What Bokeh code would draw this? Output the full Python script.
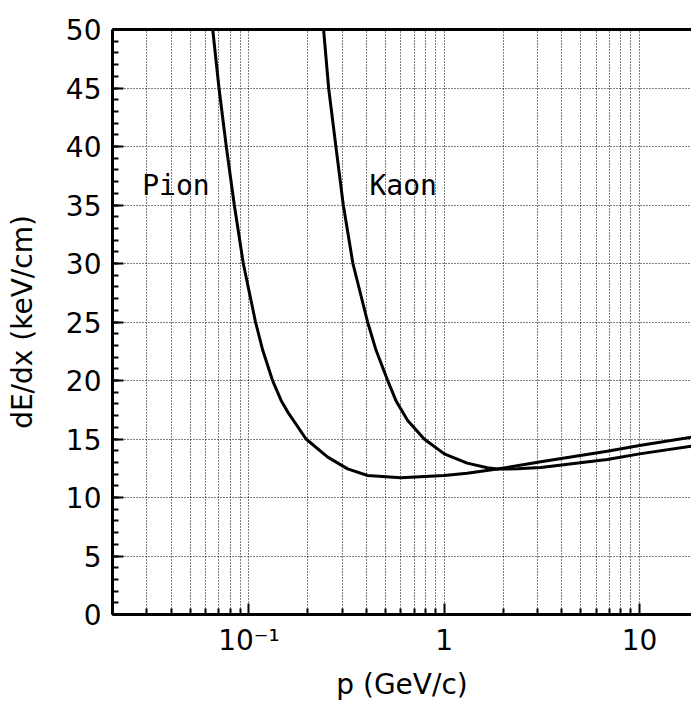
from bokeh.plotting import figure
from bokeh.models import FixedTicker, SingleIntervalTicker, Label, LogAxis, Range1d
from bokeh.embed import file_html
from bokeh.resources import INLINE

# ---- data ----
pion_p = [0.0652, 0.0702, 0.0765, 0.0841, 0.0935, 0.108, 0.1175, 0.132, 0.146,
          0.158, 0.196, 0.253, 0.32, 0.405, 0.599, 1.0, 1.31, 1.87, 3.12, 6.83,
          10.0, 18.45]
pion_dedx = [50, 45, 40, 35, 30, 25, 22.6, 20, 18.3,
             17.3, 15.0, 13.45, 12.45, 11.88, 11.68, 11.88, 12.08, 12.43, 13.05, 13.96,
             14.44, 15.16]

kaon_p = [0.241, 0.2557, 0.2786, 0.304, 0.3405, 0.405, 0.447, 0.513, 0.565, 0.648,
          0.789, 1.0, 1.31, 1.66, 1.87, 2.37, 3.12, 6.83, 10.0, 18.45]
kaon_dedx = [50, 45, 40, 35, 30, 25, 22.6, 20, 18.3, 16.6,
             15.0, 13.73, 12.94, 12.54, 12.43, 12.45, 12.56, 13.25, 13.73, 14.39]

x_major_ticks = [0.1, 1, 10]
x_minor_ticks = [0.02, 0.03, 0.04, 0.05, 0.06, 0.07, 0.08, 0.09,
                 0.2, 0.3, 0.4, 0.5, 0.6, 0.7, 0.8, 0.9,
                 2, 3, 4, 5, 6, 7, 8, 9]
x_tick_labels = {0.1: "10\u207b\u00b9", 1: "1", 10: "10"}
x_label = "p (GeV/c)"
y_label = "dE/dx (keV/cm)"
curve_names = ["Pion", "Kaon"]

FONT = "DejaVu Sans"

p = figure(width=691, height=703, x_axis_type="log",
           x_range=Range1d(0.02, 18.45), y_range=Range1d(0, 50),
           output_backend="svg", toolbar_location=None,
           min_border_left=112, min_border_top=29, min_border_right=0,
           min_border_bottom=89)
p.outline_line_color = None
p.background_fill_color = "white"
p.border_fill_color = "white"

# curves
p.line(pion_p, pion_dedx, line_color="black", line_width=3)
p.line(kaon_p, kaon_dedx, line_color="black", line_width=3)

xa = p.xaxis[0]
xa.ticker = FixedTicker(ticks=x_major_ticks, minor_ticks=x_minor_ticks)
xa.major_label_overrides = x_tick_labels
xa.axis_label = x_label
ya = p.yaxis[0]
ya.ticker = SingleIntervalTicker(interval=5, num_minor_ticks=5)
ya.axis_label = y_label

for ax in (xa, ya):
    ax.axis_line_width = 3
    ax.axis_line_color = "black"
    ax.major_tick_in = 11
    ax.major_tick_out = 0
    ax.minor_tick_in = 6
    ax.minor_tick_out = 0
    ax.major_tick_line_width = 2
    ax.minor_tick_line_width = 2
    ax.major_tick_line_color = "black"
    ax.minor_tick_line_color = "black"
    ax.major_label_text_font = FONT
    ax.major_label_text_font_size = "28px"
    ax.major_label_text_color = "black"
    ax.axis_label_text_font = FONT
    ax.axis_label_text_font_size = "28px"
    ax.axis_label_text_font_style = "normal"
    ax.axis_label_text_color = "black"

xa.major_label_standoff = 9
xa.axis_label_standoff = 8
ya.major_label_standoff = 11
ya.axis_label_standoff = 24

# top frame line
top = LogAxis(ticker=FixedTicker(ticks=[]), major_label_text_font_size="0px",
              axis_line_width=3, axis_line_color="black",
              major_tick_line_color=None, minor_tick_line_color=None)
p.add_layout(top, "above")

# grids
p.xgrid.grid_line_color = "black"
p.xgrid.grid_line_dash = "1 2"
p.xgrid.grid_line_width = 1
p.xgrid.minor_grid_line_color = "black"
p.xgrid.minor_grid_line_dash = "1 2"
p.xgrid.minor_grid_line_width = 1
p.ygrid.grid_line_color = "black"
p.ygrid.grid_line_dash = "1 2"
p.ygrid.grid_line_width = 1
p.ygrid.minor_grid_line_color = None

# curve names
p.add_layout(Label(x=0.0284, y=36.67, text=curve_names[0], text_align="left",
                   text_baseline="alphabetic", text_font="DejaVu Sans Mono",
                   text_font_size="28px", text_color="black"))
p.add_layout(Label(x=0.414, y=36.67, text=curve_names[1], text_align="left",
                   text_baseline="alphabetic", text_font="DejaVu Sans Mono",
                   text_font_size="28px", text_color="black"))

open("out.html", "w").write(file_html(p, INLINE))
